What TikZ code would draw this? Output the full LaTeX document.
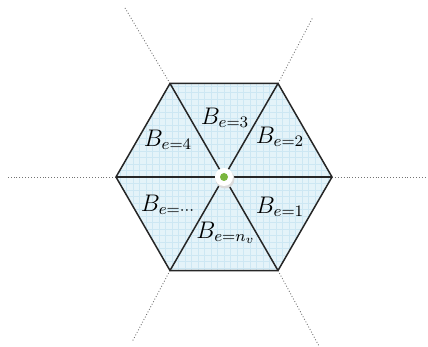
\documentclass[tikz,border=0pt]{standalone}
\usepackage{amsmath}
\usetikzlibrary{positioning}
\definecolor{cellblue}{RGB}{228,243,249}
\definecolor{gridblue}{RGB}{205,231,243}
\definecolor{dotgreen}{RGB}{122,182,62}

\begin{document}
\begin{tikzpicture}[x=0.5pt, y=0.5pt, every node/.style={font=\large},
    edge/.style={black!85, line width=0.75pt},
    ray/.style={black!55, densely dotted, line width=0.45pt}]
  \useasboundingbox (-224,-170) rectangle (204,177);
  % hexagon corners and centre
  \coordinate (c) at (0,0);
  \foreach \i in {0,...,5} \coordinate (v\i) at (\i*60:108);
  % free ends of the rays
  \coordinate (r0) at (203,0);
  \coordinate (r1) at (89,160);
  \coordinate (r2) at (-99,169);
  \coordinate (r3) at (-216,0);
  \coordinate (r4) at (-92,-165);
  \coordinate (r5) at (95,-169);
  \fill[cellblue] (v0) -- (v1) -- (v2) -- (v3) -- (v4) -- (v5) -- cycle;
  \begin{scope}
    \clip (v0) -- (v1) -- (v2) -- (v3) -- (v4) -- (v5) -- cycle;
    \draw[gridblue, line width=0.2pt, step=6.5] (-110,-98) grid (110,98);
  \end{scope}
  \foreach \i in {0,...,5} \draw[ray] (v\i) -- (r\i);
  \draw[edge] (v0) -- (v1) -- (v2) -- (v3) -- (v4) -- (v5) -- cycle;
  \draw[edge] (v0) -- (v3);
  \draw[edge] (v1) -- (v4);
  \draw[edge] (v2) -- (v5);
  % centre marker
  \fill[black!14] (1,-2) circle (9.5);
  \fill[white] (c) circle (9);
  \fill[dotgreen] (c) circle (4);
  % cell labels
  \node (b1) at (56,-30) {$B_{e=1}$};
  \node (b2) at (56,40) {$B_{e=2}$};
  \node (b3) at (1,59) {$B_{e=3}$};
  \node (b4) at (-56,37) {$B_{e=4}$};
  \node (bdots) at (-56,-28) {$B_{e=\cdots}$};
  \node (bnv) at (2,-56) {$B_{e=n_v}$};
\end{tikzpicture}
\end{document}
